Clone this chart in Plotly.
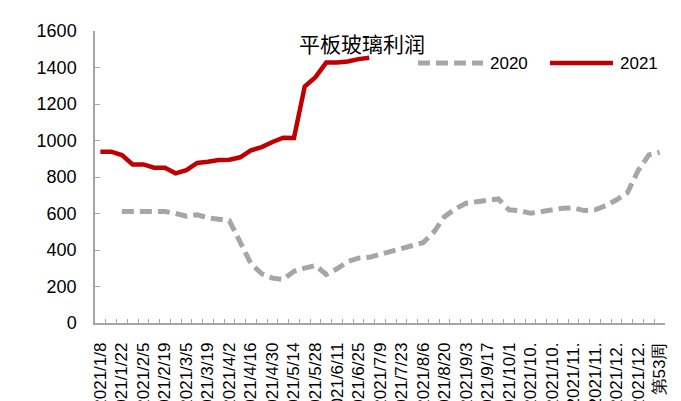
import plotly.graph_objects as go

weeks = ["2021/1/8", "2021/1/15", "2021/1/22", "2021/1/29", "2021/2/5", "2021/2/12",
         "2021/2/19", "2021/2/26", "2021/3/5", "2021/3/12", "2021/3/19", "2021/3/26",
         "2021/4/2", "2021/4/9", "2021/4/16", "2021/4/23", "2021/4/30", "2021/5/7",
         "2021/5/14", "2021/5/21", "2021/5/28", "2021/6/4", "2021/6/11", "2021/6/18",
         "2021/6/25", "2021/7/2", "2021/7/9", "2021/7/16", "2021/7/23", "2021/7/30",
         "2021/8/6", "2021/8/13", "2021/8/20", "2021/8/27", "2021/9/3", "2021/9/10",
         "2021/9/17", "2021/9/24", "2021/10/1", "2021/10/8", "2021/10/15", "2021/10/22",
         "2021/10/29", "2021/11/5", "2021/11/12", "2021/11/19", "2021/11/26", "2021/12/3",
         "2021/12/10", "2021/12/17", "2021/12/24", "2021/12/31", "第53周"]

# displayed tick labels (every other week; long ones truncated as in the source)
tick_labels = ["2021/1/8", "", "2021/1/22", "", "2021/2/5", "", "2021/2/19", "",
               "2021/3/5", "", "2021/3/19", "", "2021/4/2", "", "2021/4/16", "",
               "2021/4/30", "", "2021/5/14", "", "2021/5/28", "", "2021/6/11", "",
               "2021/6/25", "", "2021/7/9", "", "2021/7/23", "", "2021/8/6", "",
               "2021/8/20", "", "2021/9/3", "", "2021/9/17", "", "2021/10/1", "",
               "2021/10.", "", "2021/10.", "", "2021/11.", "", "2021/11.", "",
               "2021/12.", "", "2021/12.", "", "第53周"]

profit_2020 = [None, None, 611, 611, 611, 611, 611, 600, 585, 593, 576, 569, 560,
               443, 325, 270, 246, 239, 283, 301, 315, 266, 297, 337, 355, 360,
               376, 392, 403, 419, 440, 498, 583, 625, 656, 664, 675, 680, 620,
               615, 601, 612, 623, 629, 631, 616, 620, 643, 675, 713, 835, 921, 935]

profit_2021 = [939, 939, 920, 869, 869, 851, 851, 820, 838, 877, 884, 893, 895,
               908, 946, 964, 992, 1015, 1014, 1296, 1347, 1427, 1427, 1433, 1446,
               1453]

series_names = ["2020", "2021"]
title_text = "平板玻璃利润"

GRAY = "#A6A6A6"
RED = "#C00000"
FONT = "Liberation Sans, Arial, sans-serif"
CJK = "Noto Sans CJK SC, sans-serif"

fig = go.Figure()
fig.add_trace(go.Scatter(x=weeks, y=profit_2020, mode="lines", name=series_names[0],
                         line=dict(color=GRAY, width=5, dash="12px,6px"),
                         connectgaps=False, showlegend=False))
fig.add_trace(go.Scatter(x=weeks[:len(profit_2021)], y=profit_2021, mode="lines",
                         name=series_names[1], line=dict(color=RED, width=4.5),
                         showlegend=False))

L, R, T, B = 95, 16, 31, 78
W, H = 681, 401
pw, ph = W - L - R, H - T - B


def px_x(p):
    return (p - L) / pw


def px_y(p):
    return (H - B - p) / ph


# title
fig.add_annotation(text=title_text, x=px_x(362), y=px_y(43), xref="paper", yref="paper",
                   xanchor="center", yanchor="middle",
                   showarrow=False, font=dict(family=CJK, size=21, color="#000000"))

# legend (drawn manually to match long line samples)
leg_y = px_y(63)
fig.add_shape(type="line", xref="paper", yref="paper", x0=px_x(418), x1=px_x(483),
              y0=leg_y, y1=leg_y, line=dict(color=GRAY, width=5, dash="12px,6px"))
fig.add_annotation(text=series_names[0], x=px_x(488), y=leg_y, xref="paper", yref="paper",
                   xanchor="left", yanchor="middle", showarrow=False,
                   font=dict(family=FONT, size=17, color="#000"))
fig.add_shape(type="line", xref="paper", yref="paper", x0=px_x(550), x1=px_x(613),
              y0=leg_y, y1=leg_y, line=dict(color=RED, width=4.5))
fig.add_annotation(text=series_names[1], x=px_x(618), y=leg_y, xref="paper", yref="paper",
                   xanchor="left", yanchor="middle", showarrow=False,
                   font=dict(family=FONT, size=17, color="#000"))

fig.update_layout(
    width=W, height=H,
    margin=dict(l=L, r=R, t=T, b=B, pad=0, autoexpand=False),
    paper_bgcolor="white", plot_bgcolor="white",
    showlegend=False,
    xaxis=dict(
        type="category", categoryorder="array", categoryarray=weeks,
        tickmode="array", tickvals=weeks, ticktext=tick_labels,
        tickson="boundaries", ticks="inside", ticklen=4, tickcolor=GRAY,
        tickangle=-90, tickfont=dict(family=FONT, size=17, color="#000"),
        ticklabelstandoff=11, automargin=False,
        showline=True, linecolor=GRAY, linewidth=1.5, showgrid=False, zeroline=False,
        range=[-0.5, len(weeks) - 0.5],
    ),
    yaxis=dict(
        range=[0, 1600], tickmode="array", tickvals=[0, 200, 400, 600, 800, 1000, 1200, 1400, 1600],
        ticks="inside", ticklen=5, tickcolor=GRAY, automargin=False,
        tickfont=dict(family=FONT, size=18, color="#000"), ticklabelstandoff=13,
        showline=True, linecolor=GRAY, linewidth=1.5, showgrid=False, zeroline=False,
    ),
)

fig.write_html("out.html")
